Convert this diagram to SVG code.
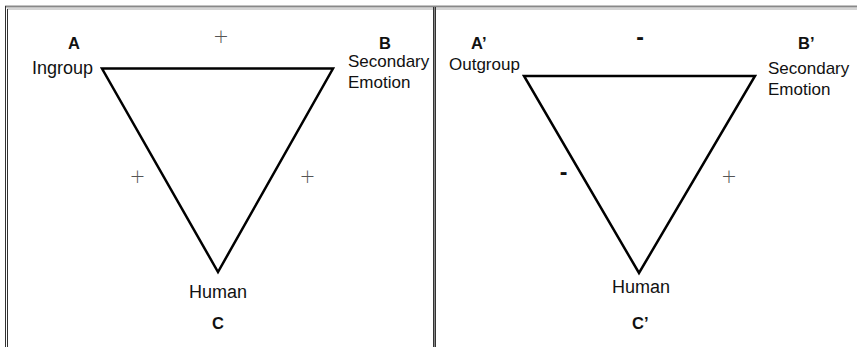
<svg xmlns="http://www.w3.org/2000/svg" width="857" height="347" viewBox="0 0 857 347">
<style>
.lbl{font-family:"Liberation Sans",Arial,sans-serif;font-size:17px;fill:#111}
.bold{font-family:"Liberation Sans",Arial,sans-serif;font-size:16.5px;font-weight:bold;fill:#111}
.sign{font-family:"DejaVu Sans",sans-serif;font-size:19px;font-weight:200;fill:#555}
.dash{font-family:"Liberation Sans",Arial,sans-serif;font-size:23px;font-weight:bold;fill:#111}
.tri{fill:none;stroke:#000;stroke-width:2.5;stroke-linejoin:miter}
.frame{stroke:#333;stroke-width:1;fill:none}
</style>
<rect width="857" height="347" fill="#fff"/>
<g id="frame">
<line x1="5" y1="6.5" x2="857" y2="6.5" stroke="#888" stroke-width="2"/>
<line x1="7" y1="9" x2="857" y2="9" stroke="#aaa" stroke-width="1"/>
<line class="frame" x1="5.5" y1="6" x2="5.5" y2="347"/>
<line class="frame" x1="7.5" y1="9" x2="7.5" y2="347"/>
<rect x="433" y="7" width="3" height="340" fill="#888"/>
<line class="frame" x1="433.5" y1="7" x2="433.5" y2="347" stroke="#222"/>
<line class="frame" x1="435.5" y1="7" x2="435.5" y2="347" stroke="#222"/>
</g>
<g id="connectors">
<polygon class="tri" points="102,68.5 333,68.5 218,272"/>
<polygon class="tri" points="524,76 755,76 639,273"/>
</g>
<g id="nodeA">
<text class="bold" x="74" y="49" text-anchor="middle">A</text>
<text class="lbl" x="93" y="74" text-anchor="end" style="font-size:18px">Ingroup</text>
</g>
<g id="nodeB">
<text class="bold" x="385" y="49" text-anchor="middle">B</text>
<text class="lbl" x="348" y="67">Secondary</text>
<text class="lbl" x="348" y="87.5">Emotion</text>
</g>
<g id="nodeC">
<text class="lbl" x="218" y="298" text-anchor="middle" style="font-size:18px">Human</text>
<text class="bold" x="218" y="329" text-anchor="middle">C</text>
</g>
<g id="signsLeft">
<text class="sign" x="221" y="42.5" text-anchor="middle">+</text>
<text class="sign" x="137.5" y="182.5" text-anchor="middle">+</text>
<text class="sign" x="307.5" y="182.5" text-anchor="middle">+</text>
</g>
<g id="nodeA2">
<text class="bold" x="471" y="49">A’</text>
<text class="lbl" x="449" y="70">Outgroup</text>
</g>
<g id="nodeB2">
<text class="bold" x="798" y="49">B’</text>
<text class="lbl" x="768" y="74">Secondary</text>
<text class="lbl" x="768" y="94.5">Emotion</text>
</g>
<g id="nodeC2">
<text class="lbl" x="641" y="293" text-anchor="middle" style="font-size:18px">Human</text>
<text class="bold" x="632" y="329">C’</text>
</g>
<g id="signsRight">
<text class="dash" x="640" y="45" text-anchor="middle">-</text>
<text class="dash" x="563.5" y="180" text-anchor="middle">-</text>
<text class="sign" x="729" y="182.5" text-anchor="middle">+</text>
</g>
</svg>
